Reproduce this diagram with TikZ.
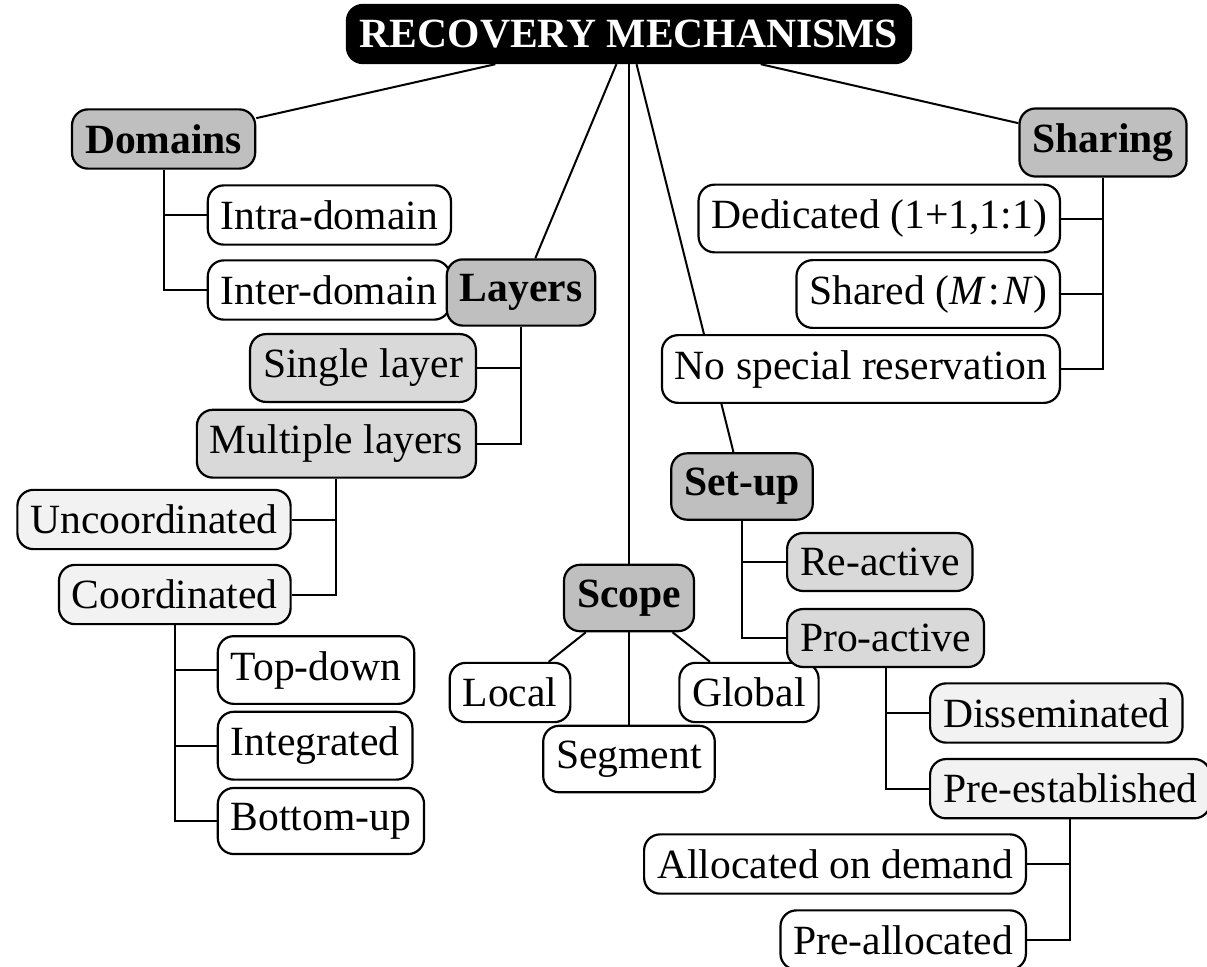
\documentclass[tikz,border=0pt]{standalone}
\usepackage{fontspec}
\setmainfont{Liberation Serif}
\usetikzlibrary{backgrounds}
\definecolor{lvlone}{HTML}{BFBFBF}
\definecolor{lvltwo}{HTML}{D9D9D9}
\definecolor{lvlthree}{HTML}{F2F2F2}
\begin{document}
\begin{tikzpicture}[x=0.5pt,y=-0.5pt,
  box/.style={draw=black, line width=1.1pt, rounded corners=8pt,
    inner xsep=6.5pt, inner ysep=7.5pt,
    fill=white, font=\fontsize{20.8}{25}\selectfont},
  rootbox/.style={box, fill=black, text=white, font=\fontsize{20.8}{25}\selectfont\bfseries},
  topic/.style={box, fill=lvlone, font=\fontsize{20.8}{25}\selectfont\bfseries},
  sub/.style={box, fill=lvltwo},
  subsub/.style={box, fill=lvlthree},
  leaf/.style={box},
  link/.style={line width=1pt}]
\useasboundingbox (0,0) rectangle (1207,966);

% root
\node[rootbox] (root) at (629,34) {RECOVERY MECHANISMS};

% domains
\node[topic] (dom) at (163.6,139) {Domains};
\node[leaf, anchor=west] (intra) at (206.7,215) {Intra-domain};
\node[leaf, anchor=west] (inter) at (206.7,290) {Inter-domain};

% layers
\node[topic] (lay) at (521,292.5) {Layers};
\node[sub, anchor=east] (single) at (477,368) {Single layer};
\node[sub, anchor=east] (multi) at (477,443.7) {Multiple layers};
\node[subsub, anchor=east] (uncoord) at (291.7,519.5) {Uncoordinated};
\node[subsub, anchor=east] (coord) at (291.7,594.5) {Coordinated};
\node[leaf, anchor=west] (topdown) at (216.7,670) {Top-down};
\node[leaf, anchor=west] (integ) at (216.7,745.7) {Integrated};
\node[leaf, anchor=west] (bottomup) at (216.7,821) {Bottom-up};

% scope
\node[topic] (scope) at (629,598) {Scope};
\node[leaf] (local) at (510,692.5) {Local};
\node[leaf] (global) at (749,692.5) {Global};
\node[leaf] (segment) at (629,759) {Segment};

% set-up
\node[topic] (setup) at (742,486.5) {Set-up};
\node[sub, anchor=west] (reactive) at (786,562) {Re-active};
\node[sub, anchor=west] (proactive) at (786,638) {Pro-active};
\node[subsub, anchor=west] (dissem) at (929,713) {Disseminated};
\node[subsub, anchor=west] (preest) at (929,788.7) {Pre-established};
\node[leaf, anchor=east] (ondemand) at (1027,864) {Allocated on demand};
\node[leaf, anchor=east] (prealloc) at (1027,940) {Pre-allocated};

% sharing
\node[topic] (sharing) at (1103,142.5) {Sharing};
\node[leaf, anchor=east] (dedicated) at (1061,218.5) {Dedicated (1+1,1:1)};
\node[leaf, anchor=east] (shared) at (1061,294) {Shared (\textit{M}\kern1.5pt:\kern1.5pt\textit{N})};
\node[leaf, anchor=east] (nospecial) at (1061,369) {No special reservation};

\begin{scope}[on background layer]
  \draw[link] (root) -- (dom);
  \draw[link] (root) -- (lay);
  \draw[link] (root) -- (scope);
  \draw[link] (root) -- (setup);
  \draw[link] (root) -- (sharing);

  \draw[link] (dom.south) |- (intra.west);
  \draw[link] (dom.south) |- (inter.west);

  \draw[link] (lay.south) |- (single.east);
  \draw[link] (lay.south) |- (multi.east);
  \draw[link] (multi.south) |- (uncoord.east);
  \draw[link] (multi.south) |- (coord.east);
  \draw[link] (coord.south) |- (topdown.west);
  \draw[link] (coord.south) |- (integ.west);
  \draw[link] (coord.south) |- (bottomup.west);

  \draw[link] (scope) -- (local);
  \draw[link] (scope) -- (global);
  \draw[link] (scope) -- (segment);

  \draw[link] (setup.south) |- (reactive.west);
  \draw[link] (setup.south) |- (proactive.west);
  \draw[link] (proactive.south) |- (dissem.west);
  \draw[link] (proactive.south) |- (preest.west);
  \draw[link] (preest.south) |- (ondemand.east);
  \draw[link] (preest.south) |- (prealloc.east);

  \draw[link] (sharing.south) |- (dedicated.east);
  \draw[link] (sharing.south) |- (shared.east);
  \draw[link] (sharing.south) |- (nospecial.east);
\end{scope}
\end{tikzpicture}
\end{document}
